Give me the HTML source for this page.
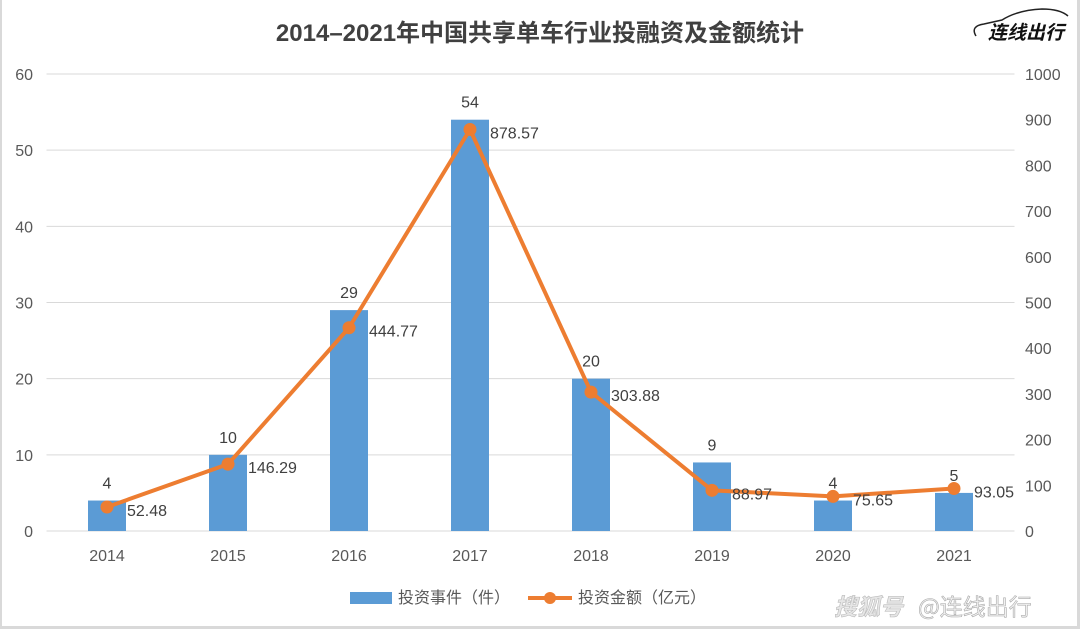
<!DOCTYPE html>
<html><head><meta charset="utf-8">
<style>
html,body{margin:0;padding:0;background:#fff;}
#wrap{position:relative;width:1080px;height:629px;overflow:hidden;background:#fff;font-family:"Liberation Sans","Noto Sans CJK SC",sans-serif;}
#frame{position:absolute;left:0;top:0;border-left:2px solid #d9d9d9;border-right:3px solid #d9d9d9;border-bottom:3px solid #d9d9d9;box-sizing:border-box;width:1080px;height:629px;}
</style></head>
<body>
<div id="wrap">
<div id="frame"></div>
<svg id="chart" width="1080" height="629" style="position:absolute;left:0;top:0">
<text x="540" y="41" text-anchor="middle" font-size="24" font-weight="bold" fill="#404040" font-family="Liberation Sans,Noto Sans CJK SC,sans-serif">2014–2021年中国共享单车行业投融资及金额统计</text>
<g>
<path d="M976 36 Q970 26 984 24 L1002 20 Q1018 10 1042 9 Q1060 9 1068 16" fill="none" stroke="#222" stroke-width="1.5"/>
<text x="1026" y="39" text-anchor="middle" font-size="19" font-weight="bold" font-style="italic" fill="#111" font-family="Noto Sans CJK SC,sans-serif">连线出行</text>
</g>
<g id="grid"></g><g id="bars"></g><g id="line"></g><g id="labels"></g><g id="axes"></g>
<g>
<g>
<rect x="350" y="592" width="42" height="12" fill="#5b9bd5"/>
<text x="398" y="603" font-size="16" fill="#595959" font-family="Noto Sans CJK SC,sans-serif">投资事件（件）</text>
</g>
<g>
<line x1="528" y1="598" x2="572" y2="598" stroke="#ed7d31" stroke-width="4"/>
<circle cx="550" cy="598" r="6" fill="#ed7d31"/>
<text x="578" y="603" font-size="16" fill="#595959" font-family="Noto Sans CJK SC,sans-serif">投资金额（亿元）</text>
</g>
</g>
<text x="834" y="615" font-size="23" font-style="italic" font-weight="bold" fill="#e6e6e6" stroke="#bbb" stroke-width="0.6" font-family="Noto Sans CJK SC,sans-serif">搜狐号</text>
<text x="918" y="615" font-size="23" fill="#f2f2f2" stroke="#aaa" stroke-width="0.6" font-family="Noto Sans CJK SC,sans-serif">@连线出行</text>
</svg>
</div>
<script>
const categories=["2014","2015","2016","2017","2018","2019","2020","2021"];
const events=[4,10,29,54,20,9,4,5];
const amounts=[52.48,146.29,444.77,878.57,303.88,88.97,75.65,93.05];
const amountLabels=["52.48","146.29","444.77","878.57","303.88","88.97","75.65","93.05"];
const leftTicks=[0,10,20,30,40,50,60];
const rightTicks=[0,100,200,300,400,500,600,700,800,900,1000];
const NS="http://www.w3.org/2000/svg";
const L=46.5,R=1014.5,T=74,B=531;
const step=(R-L)/categories.length;
const xC=i=>L+step*(i+0.5);
const yL=v=>B-(v/60)*(B-T);
const yR=v=>B-(v/1000)*(B-T);
function mk(tag,attrs,parent,txt){const e=document.createElementNS(NS,tag);for(const k in attrs)e.setAttribute(k,attrs[k]);if(txt!==undefined)e.textContent=txt;parent.appendChild(e);return e;}
const grid=document.getElementById('grid'),bars=document.getElementById('bars'),line=document.getElementById('line'),labels=document.getElementById('labels'),axes=document.getElementById('axes');
const F="Liberation Sans,sans-serif";
leftTicks.forEach(v=>{
 const g=mk('line',{x1:L,x2:R,y1:yL(v),y2:yL(v),stroke:'#d9d9d9','stroke-width':1},grid);
 
 
 const t=mk('text',{x:33,y:yL(v)+6,'text-anchor':'end','font-size':16,fill:'#595959','font-family':F},axes,String(v));
 
 
});
rightTicks.forEach(v=>{
 const t=mk('text',{x:1025,y:yR(v)+6,'text-anchor':'start','font-size':16,fill:'#595959','font-family':F},axes,String(v));
 
 
});
categories.forEach((c,i)=>{
 const t=mk('text',{x:xC(i),y:561,'text-anchor':'middle','font-size':16,fill:'#595959','font-family':F},axes,c);
 
 
 const bw=38;
 const b=mk('rect',{x:xC(i)-bw/2,y:yL(events[i]),width:bw,height:B-yL(events[i]),fill:'#5b9bd5'},bars);
 
 
 const bl=mk('text',{x:xC(i),y:yL(events[i])-12,'text-anchor':'middle','font-size':16,fill:'#404040','font-family':F},labels,String(events[i]));
 
 
 const al=mk('text',{x:xC(i)+20,y:yR(amounts[i])+9,'text-anchor':'start','font-size':16,fill:'#404040','font-family':F},labels,amountLabels[i]);
 
 
});
const pl=mk('polyline',{points:amounts.map((v,i)=>xC(i)+','+yR(v)).join(' '),fill:'none',stroke:'#ed7d31','stroke-width':4,'stroke-linejoin':'round'},line);


amounts.forEach((v,i)=>{
 const c=mk('circle',{cx:xC(i),cy:yR(v),r:6.5,fill:'#ed7d31'},line);
 
 
});
</script>
</body></html>
